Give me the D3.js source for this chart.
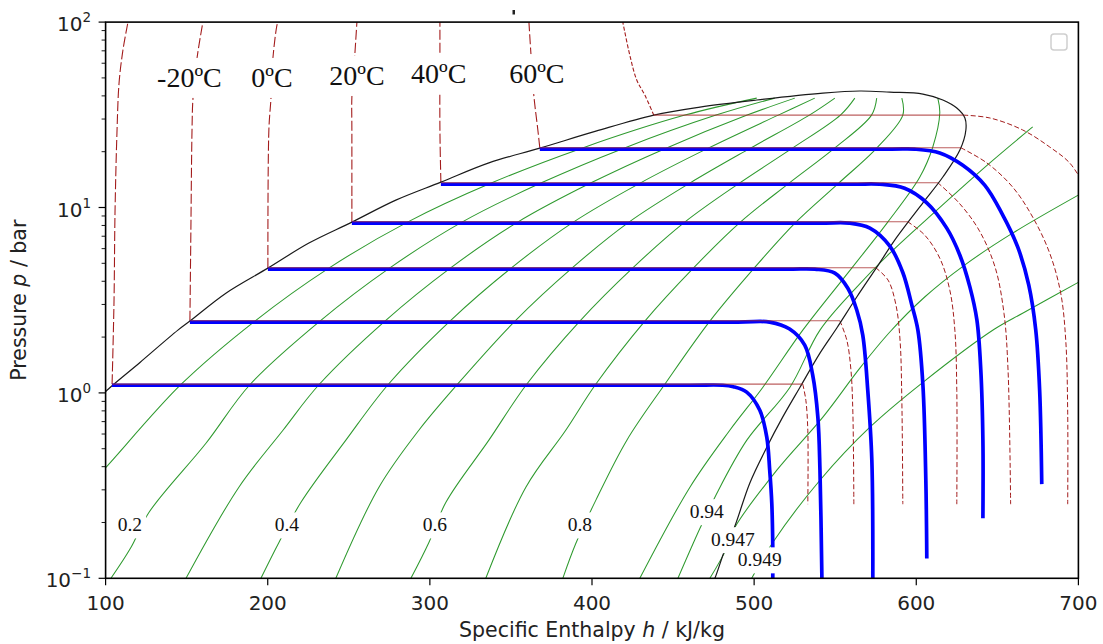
<!DOCTYPE html>
<html><head><meta charset="utf-8">
<script src="https://cdn.jsdelivr.net/npm/d3@7"></script>
<style>body{margin:0;background:#fff}svg{display:block}</style>
</head><body>
<svg id="c" width="1103" height="644"></svg>
<script>
// ---------------- DATA ----------------
const xTicks = [100, 200, 300, 400, 500, 600, 700];
const yTicks = [0.1, 1, 10, 100];
const yTickExp = ["\u22121", "0", "1", "2"];

// saturation dome [h kJ/kg, p bar]
const satDome = [[98.5,0.975],[100.2,1.02],[121.2,1.46],[144.6,2.18],[152.0,2.44],[174.2,3.45],[200.1,4.71],[225.4,6.43],[251.9,8.34],[279.0,10.96],[306.8,13.7],[336.4,17.4],[367.8,20.9],[402.4,25.8],[438.1,31.5],[466.6,34.8],[501.6,38.0],[542.4,41.4],[565.2,42.5],[583.7,41.9],[604.1,40.9],[616.4,38.0],[625.0,34.4],[630.0,30.4],[630.6,26.2],[626.9,20.4],[616.4,14.6],[604.1,10.6],[588.0,6.92],[575.7,4.77],[563.3,3.29],[551.0,2.24],[540.6,1.64],[528.2,1.07],[517.6,0.740],[507.8,0.509],[497.3,0.326],[488.1,0.191],[481.9,0.142],[475.8,0.1],[474.0,0.093]];

// saturation temperatures and two-phase isotherm segments
const satTemps = [-40, -20, 0, 20, 40, 60, 80];
const satP = [1.115, 2.45, 4.73, 8.38, 13.6, 21.0, 31.5];
const hLiq = [104.0, 152.0, 200.1, 251.9, 306.8, 367.8, 438.1];
const hVap = [530.0, 552.9, 575.0, 594.7, 613.3, 627.5, 629.0];

// isotherms, liquid branch (red dashed)
const isoLiquid = [
  [[104.0,1.115],[105.2,3.17],[105.8,9.33],[107.0,25.2],[108.3,46.9],[110.7,70.7],[113.8,100]],
  [[152.0,2.45],[152.6,7.55],[153.3,26.2],[153.9,38.9],[156.4,64.0],[160.0,100]],
  [[200.1,4.73],[200.7,26.2],[202.0,38.9],[203.2,64.0],[205.7,96.4],[206.3,100]],
  [[251.9,8.38],[251.9,26.2],[251.9,39.4],[253.7,66.4],[255.0,100]],
  [[306.8,13.6],[306.2,26.2],[306.2,68.1],[306.2,100]],
  [[367.8,21.0],[366.6,26.2],[364.1,40.4],[362.3,68.1],[361.1,100]],
  [[438.1,31.5],[432.6,40.4],[427.6,48.7],[423.3,66.4],[419.0,100]]
];
// isotherms, superheated branch (red dashed)
const isoVapour = [
  [[530.0,1.115],[531.9,0.913],[533.1,0.629],[533.1,0.251]],
  [[552.9,2.45],[557.2,1.92],[559.7,1.33],[560.9,0.780],[561.5,0.251]],
  [[575.0,4.73],[582.6,4.06],[587.5,2.97],[590.0,1.92],[591.1,0.913],[591.7,0.251]],
  [[594.7,8.38],[605.2,7.10],[614.5,5.33],[620.7,3.58],[623.8,2.18],[625.0,1.03],[625.0,0.251]],
  [[613.3,13.6],[626.3,10.6],[638.7,7.55],[648.6,4.77],[654.1,2.69],[656.6,1.33],[658.2,0.251]],
  [[627.5,21.0],[643.5,17.4],[659.4,12.9],[671.8,8.88],[682.3,5.67],[689.1,3.45],[692.2,1.92],[693.4,0.780],[693.4,0.251]],
  [[629.0,31.5],[645.4,30.4],[665.6,26.2],[682.3,21.2],[694.6,17.4],[703.0,13.5]]
];

// blue model isotherms (-40 ... 60 C)
const blueCurves = [
  [[103.9,1.10],[460,1.10],[480.6,1.10],[487.2,1.08],[495.4,1.01],[503.5,0.806],[507.8,0.577],[509.6,0.383],[510.9,0.253],[511.5,0.147],[511.5,0.1]],
  [[152.0,2.41],[490,2.41],[509.6,2.41],[521.9,2.21],[531.2,1.81],[536.1,1.25],[539.3,0.740],[540.6,0.383],[541.8,0.1]],
  [[200.1,4.65],[520,4.65],[537.5,4.65],[549.8,4.43],[557.8,3.67],[563.3,2.80],[567.0,2.05],[570.1,1.03],[572.6,0.433],[573.2,0.1]],
  [[251.9,8.24],[540,8.24],[558.8,8.24],[571.4,7.74],[583.7,6.19],[591.7,4.46],[597.3,2.97],[601.0,2.18],[604.1,1.10],[605.9,0.338],[606.5,0.128]],
  [[306.8,13.35],[560,13.35],[577.5,13.35],[592.8,12.7],[606.5,10.6],[618.8,7.74],[626.9,5.53],[633.1,3.72],[637.4,2.47],[639.8,1.33],[641.1,0.556],[641.1,0.211]],
  [[367.8,20.65],[585,20.65],[599.0,20.65],[614.5,19.7],[628.7,16.9],[642.2,13.2],[652.7,9.33],[662.6,6.11],[669.4,3.81],[673.7,2.18],[676.1,1.03],[677.4,0.322]]
];

// green contour lines
const greenLines = [
  [[96.5,0.37],[100.2,0.397],[146.5,1.11],[192.1,2.44],[237.7,4.71],[286.2,8.34],[337.5,13.5],[393.8,20.9],[457.3,31.5],[501.6,38.9]],
  [[103.3,0.1],[115.7,0.147],[126.8,0.227],[161.9,0.535],[189.1,1.11],[232.2,2.44],[275.1,4.71],[319.8,8.34],[368.1,13.5],[419.7,20.9],[476.5,31.5],[512.7,38.9]],
  [[149.6,0.1],[182.2,0.310],[209.4,0.629],[231.7,1.11],[272.3,2.44],[312.6,4.71],[354.2,8.34],[398.8,13.5],[445.7,20.9],[495.7,31.5],[525.1,38.9]],
  [[195.8,0.1],[206.9,0.156],[220.5,0.257],[248.2,0.556],[274.3,1.11],[312.4,2.44],[350.1,4.71],[388.5,8.34],[429.4,13.5],[471.7,20.9],[514.9,31.5],[537.4,38.9]],
  [[242.0,0.1],[268.6,0.310],[293.2,0.629],[316.9,1.11],[352.5,2.44],[387.6,4.71],[422.8,8.34],[460.1,13.5],[497.7,20.9],[534.1,31.5],[549.8,38.9]],
  [[288.3,0.1],[299.4,0.156],[309.9,0.257],[336.4,0.556],[359.6,1.11],[392.5,2.44],[425.0,4.71],[457.2,8.34],[490.7,13.5],[523.6,20.9],[553.2,31.5],[562.1,38.9]],
  [[334.5,0.1],[359.2,0.310],[383.8,0.629],[402.2,1.11],[432.6,2.44],[462.5,4.71],[491.5,8.34],[521.4,13.5],[549.6,20.9],[572.4,31.5],[575.6,38.9]],
  [[382.0,0.1],[390.0,0.154],[402.4,0.264],[421.5,0.556],[444.8,1.11],[472.7,2.44],[500.0,4.71],[525.8,8.34],[552.0,13.5],[575.6,20.9],[591.7,31.5],[591.1,38.9]],
  [[429.5,0.1],[460.4,0.310],[485.0,0.629],[505.3,1.07],[530.0,2.18],[560.2,4.71],[582.4,8.34],[602.2,14.6],[610.2,21.2],[614.5,32.3],[613.3,38.9]],
  [[453.0,0.1],[466.6,0.186],[475.8,0.274],[495.5,0.556],[522.0,1.07],[540.6,2.18],[563.3,3.72],[583.7,5.67],[612.7,9.68],[645.4,17.4],[671.8,27.2]],
  [[472.7,0.1],[483.1,0.145],[488.1,0.188],[514.0,0.383],[542.4,0.740],[565.2,1.36],[583.7,2.13],[605.2,3.29],[629.8,4.89],[659.4,7.27],[700.2,11.7]],
  [[498.5,0.1],[511.5,0.156],[540.6,0.338],[571.4,0.653],[604.1,1.14],[648.3,2.21],[665.6,2.69],[700.2,3.96]]
];

// annotations
const tempLabels = ["-20\u00baC", "0\u00baC", "20\u00baC", "40\u00baC", "60\u00baC"];
const tempLabelH = [151.7, 202.6, 255.0, 305.5, 366.0];
const tempLabelP = [44.7, 44.7, 45.8, 46.9, 46.9];
const qLabels = ["0.2", "0.4", "0.6", "0.8", "0.94", "0.947", "0.949"];
const qLabelH = [115.0, 211.8, 303.1, 392.5, 470.8, 486.9, 503.5];
const qLabelP = [0.179, 0.179, 0.179, 0.179, 0.211, 0.149, 0.116];

// ---------------- CHART ----------------
const svg = d3.select("#c");
const L = 105.6, R = 1078.4, T = 22.1, B = 578.3;
const x = d3.scaleLinear().domain([100, 700]).range([L, R]);
const y = d3.scaleLog().domain([0.1, 100]).range([B, T]);

const smooth = d3.line().x(d => x(d[0])).y(d => y(d[1])).curve(d3.curveCatmullRom.alpha(0.5));
const straight = d3.line().x(d => x(d[0])).y(d => y(d[1]));

svg.append("defs").append("clipPath").attr("id", "clip")
  .append("rect").attr("x", L).attr("y", T).attr("width", R - L).attr("height", B - T);

const g = svg.append("g").attr("clip-path", "url(#clip)");

// green lines
g.append("g").selectAll("path").data(greenLines).join("path")
  .attr("d", smooth).attr("fill", "none")
  .attr("stroke", "#2f9a2f").attr("stroke-width", 1.05);

// red dashed isotherms
g.append("g").selectAll("path").data(isoLiquid).join("path")
  .attr("d", smooth).attr("fill", "none")
  .attr("stroke", "#a31c1c").attr("stroke-width", 1.1)
  .attr("stroke-dasharray", (d, i) => i === 6 ? "4,2" : "10,3");
g.append("g").selectAll("path").data(isoVapour).join("path")
  .attr("d", smooth).attr("fill", "none")
  .attr("stroke", "#a31c1c").attr("stroke-width", 1.0).attr("stroke-dasharray", "5,2.5");

// saturation dome
g.append("path").datum(satDome).attr("d", smooth).attr("fill", "none")
  .attr("stroke", "#1a1a1a").attr("stroke-width", 1.2);

// blue model isotherms
g.append("g").selectAll("path").data(blueCurves).join("path")
  .attr("d", smooth).attr("fill", "none")
  .attr("stroke", "#0000ff").attr("stroke-width", 3.7).attr("stroke-linecap", "butt");

// two-phase red horizontals
g.append("g").selectAll("path").data(satP.map((p, i) => [[hLiq[i], p], [hVap[i], p]])).join("path")
  .attr("d", straight).attr("fill", "none")
  .attr("stroke", "#a52a2a").attr("stroke-opacity", 0.75).attr("stroke-width", 1.1);

// labels with white boxes
const lab = svg.append("g");
function boxedText(px, py, txt, size, padX, padT, padB) {
  const t = lab.append("text").attr("x", px).attr("y", py).attr("text-anchor", "middle")
    .attr("font-family", "Liberation Serif, Times New Roman, serif").attr("font-size", size)
    .attr("fill", "#111").text(txt);
  const bb = t.node().getBBox();
  lab.insert("rect", () => t.node()).attr("x", bb.x - padX).attr("y", bb.y - padT)
    .attr("width", bb.width + 2 * padX).attr("height", bb.height + padT + padB).attr("fill", "#fff");
}
tempLabels.forEach((s, i) => boxedText(x(tempLabelH[i]), y(tempLabelP[i]), s, 28, 3, 4, 5));
qLabels.forEach((s, i) => boxedText(x(qLabelH[i]), y(qLabelP[i]), s, 19.5, 4, 2, 3));

// axes frame
const ax = svg.append("g");
ax.append("rect").attr("x", L).attr("y", T).attr("width", R - L).attr("height", B - T)
  .attr("fill", "none").attr("stroke", "#000").attr("stroke-width", 1.6);

// x ticks
xTicks.forEach(v => {
  ax.append("line").attr("x1", x(v)).attr("x2", x(v)).attr("y1", B).attr("y2", B + 7)
    .attr("stroke", "#000").attr("stroke-width", 1.2);
  ax.append("text").attr("x", x(v)).attr("y", 610).attr("text-anchor", "middle")
    .attr("font-family", "DejaVu Sans, sans-serif").attr("font-size", 20).attr("fill", "#222").text(v);
});
// y ticks
yTicks.forEach((v, i) => {
  ax.append("line").attr("x1", L - 7).attr("x2", L).attr("y1", y(v)).attr("y2", y(v))
    .attr("stroke", "#000").attr("stroke-width", 1.2);
  const t = ax.append("text").attr("x", 91).attr("y", y(v) + 9).attr("text-anchor", "end")
    .attr("font-family", "DejaVu Sans, sans-serif").attr("font-size", 20).attr("fill", "#222");
  t.append("tspan").text("10");
  t.append("tspan").attr("dy", -9).attr("font-size", 13.5).text(yTickExp[i]);
});
const minor = [];
[0.1, 1, 10].forEach(d => { for (let k = 2; k <= 9; k++) minor.push(d * k); });
ax.selectAll(".mt").data(minor).join("line").attr("class", "mt")
  .attr("x1", L - 4).attr("x2", L).attr("y1", d => y(d)).attr("y2", d => y(d))
  .attr("stroke", "#000").attr("stroke-width", 0.9);

// axis titles
const xt = ax.append("text").attr("x", (L + R) / 2).attr("y", 637).attr("text-anchor", "middle")
  .attr("font-family", "DejaVu Sans, sans-serif").attr("font-size", 20.5).attr("fill", "#222");
xt.append("tspan").text("Specific Enthalpy ");
xt.append("tspan").attr("font-style", "italic").text("h");
xt.append("tspan").text(" / kJ/kg");

const yt = ax.append("text").attr("transform", `translate(26,${(T + B) / 2}) rotate(-90)`)
  .attr("text-anchor", "middle")
  .attr("font-family", "DejaVu Sans, sans-serif").attr("font-size", 20.5).attr("fill", "#222");
yt.append("tspan").text("Pressure ");
yt.append("tspan").attr("font-style", "italic").text("p");
yt.append("tspan").text(" / bar");

// empty legend box and stray mark
ax.append("rect").attr("x", 1051).attr("y", 34).attr("width", 16).attr("height", 16).attr("rx", 3)
  .attr("fill", "#fff").attr("stroke", "#cfcfcf").attr("stroke-width", 1.5);
ax.append("rect").attr("x", 512.5).attr("y", 10).attr("width", 2.5).attr("height", 4.5).attr("fill", "#222");
</script>
</body></html>
